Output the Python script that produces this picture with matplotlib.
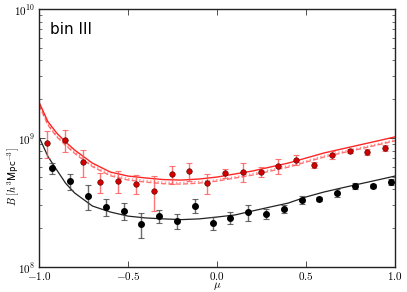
import matplotlib
matplotlib.use("Agg")
import matplotlib.pyplot as plt
import numpy as np

plt.rcParams["mathtext.fontset"] = "cm"
plt.rcParams["xtick.direction"] = "in"
plt.rcParams["ytick.direction"] = "in"

# measured bispectrum, units of 1e8 h^3 Mpc^-3
mu_red = [-0.955, -0.855, -0.755, -0.655, -0.555, -0.455, -0.355, -0.255, -0.155, -0.055,
          0.045, 0.145, 0.245, 0.345, 0.445, 0.545, 0.645, 0.745, 0.845, 0.945]
b_red = [9.15, 9.64, 6.51, 4.56, 4.64, 4.40, 3.88, 5.26, 5.55, 4.48,
         5.35, 5.45, 5.45, 6.07, 6.75, 6.18, 7.38, 7.93, 7.78, 8.36]
err_red = [2.2, 1.9, 1.5, 0.82, 0.87, 0.75, 1.18, 0.85, 0.89, 0.80,
           0.43, 0.93, 0.49, 0.81, 0.60, 0.33, 0.53, 0.28, 0.42, 0.45]

mu_blk = [-0.925, -0.825, -0.725, -0.625, -0.525, -0.425, -0.325, -0.225, -0.125, -0.025,
          0.075, 0.175, 0.275, 0.375, 0.475, 0.575, 0.675, 0.775, 0.875, 0.975]
b_blk = [5.85, 4.64, 3.55, 2.92, 2.72, 2.15, 2.48, 2.27, 2.97, 2.19,
         2.40, 2.67, 2.58, 2.82, 3.31, 3.36, 3.75, 4.25, 4.25, 4.56]
err_blk = [0.55, 0.66, 0.76, 0.42, 0.39, 0.46, 0.27, 0.30, 0.37, 0.27,
           0.26, 0.38, 0.23, 0.20, 0.24, 0.12, 0.27, 0.23, 0.15, 0.25]

# model curves
mu_model = [-1.0, -0.95, -0.9, -0.85, -0.8, -0.7, -0.6, -0.5, -0.4, -0.3, -0.2, -0.1,
            0.0, 0.1, 0.2, 0.3, 0.4, 0.5, 0.6, 0.7, 0.8, 0.9, 1.0]
model_blk = [10.2, 7.2, 5.65, 4.45, 3.75, 2.97, 2.67, 2.48, 2.40, 2.36, 2.33, 2.36,
             2.44, 2.53, 2.72, 2.92, 3.13, 3.49, 3.81, 4.10, 4.40, 4.72, 5.07]
model_red = [19.0, 13.4, 10.9, 9.3, 8.07, 6.39, 5.45, 5.07, 4.90, 4.76, 4.72, 4.81,
             4.98, 5.26, 5.55, 5.96, 6.39, 6.99, 7.65, 8.22, 8.83, 9.48, 10.2]
model_red_dash = [18.0, 12.6, 10.2, 8.75, 7.6, 6.0, 5.1, 4.72, 4.55, 4.42, 4.39, 4.47,
                  4.63, 4.89, 5.16, 5.54, 5.94, 6.50, 7.11, 7.65, 8.21, 8.82, 9.5]
model_red_dot = [18.4, 12.9, 10.4, 8.95, 7.8, 6.15, 5.25, 4.85, 4.68, 4.55, 4.52, 4.6,
                 4.75, 5.0, 5.3, 5.68, 6.1, 6.65, 7.3, 7.85, 8.4, 9.0, 9.7]

scale = 1e8

fig = plt.figure(figsize=(4.07, 2.92), dpi=100)
ax = fig.add_axes([39 / 407, 1 - 267 / 292, 356 / 407, 258 / 292])

mm = np.array(mu_model)
ax.plot(mm, np.array(model_red) * scale, color="red", lw=1.0, alpha=0.85)
ax.plot(mm, np.array(model_red_dash) * scale, color="red", lw=1.0, ls="--", alpha=0.55)
ax.plot(mm, np.array(model_red_dot) * scale, color="red", lw=1.0, ls=":", alpha=0.4)
ax.plot(mm, np.array(model_blk) * scale, color="#222222", lw=0.9)

ax.errorbar(mu_red, np.array(b_red) * scale, yerr=np.array(err_red) * scale, fmt="none",
            ecolor="#ff5555", elinewidth=1.0, capsize=2.3, capthick=0.8, alpha=0.8, zorder=3)
ax.plot(mu_red, np.array(b_red) * scale, "o", color="#d40000", mec="#440000", mew=0.4,
        ms=4.0, zorder=4)
ax.errorbar(mu_blk, np.array(b_blk) * scale, yerr=np.array(err_blk) * scale, fmt="none",
            ecolor="#444444", elinewidth=1.0, capsize=2.3, capthick=0.8, alpha=0.8, zorder=3)
ax.plot(mu_blk, np.array(b_blk) * scale, "o", color="black", ms=4.0, zorder=4)

ax.set_yscale("log")
ax.set_xlim(-1, 1)
ax.set_ylim(1e8, 1e10)
ax.set_xticks([-1.0, -0.5, 0.0, 0.5, 1.0])
ax.set_xticklabels([r"$-1.0$", r"$-0.5$", r"$0.0$", r"$0.5$", r"$1.0$"], fontsize=8)
ax.set_yticks([1e8, 1e9, 1e10])
ax.set_yticklabels([r"$10^{8}$", r"$10^{9}$", r"$10^{10}$"], fontsize=8)
ax.tick_params(which="both", top=True, right=True, color="#333333")
ax.tick_params(axis="x", pad=2.5)
ax.tick_params(axis="y", pad=3)
ax.tick_params(which="major", length=4, width=0.6)
ax.tick_params(which="minor", length=2, width=0.5)
for s in ax.spines.values():
    s.set_linewidth(1.0)
    s.set_color("#222222")

ax.set_xlabel(r"$\mu$", fontsize=8, va="center")
ax.xaxis.set_label_coords(0.5, -0.073)
ax.set_ylabel(r"$B\ [h^3\mathsf{Mpc}^{-3}]$", fontsize=7.5, va="center")
ax.yaxis.set_label_coords(-0.07, 0.35)
ax.text(0.03, 0.95, "bin III", transform=ax.transAxes, fontsize=11, va="top", ha="left")

fig.savefig("out.png", dpi=100)
